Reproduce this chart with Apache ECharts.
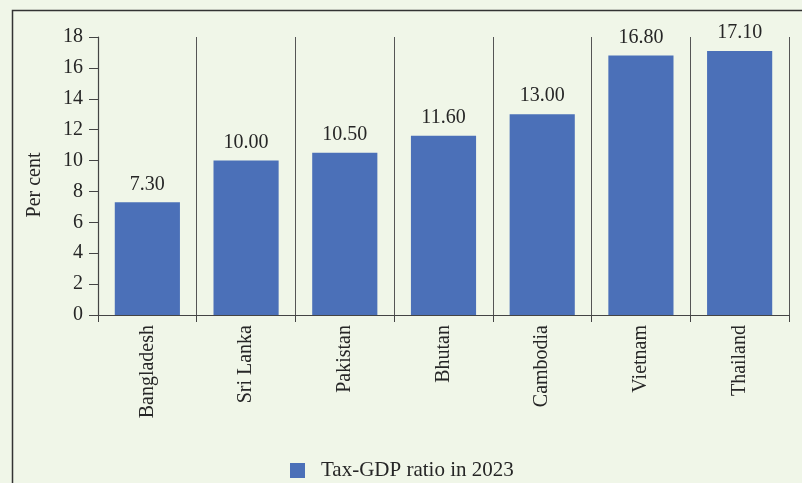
<!DOCTYPE html>
<html><head><meta charset="utf-8">
<script src="https://cdn.jsdelivr.net/npm/echarts@6/dist/echarts.min.js"></script>
<style>html,body{margin:0;padding:0;background:#f0f6e8;}#c{width:802px;height:483px;}</style>
</head><body><div id="c"></div>
<script>
const categories = ['Bangladesh','Sri Lanka','Pakistan','Bhutan','Cambodia','Vietnam','Thailand'];
const taxGdp2023 = [7.30, 10.00, 10.50, 11.60, 13.00, 16.80, 17.10];
const seriesName = 'Tax-GDP ratio in 2023';
const yAxisName = 'Per cent';

const FONT = '"Liberation Serif", serif';
const TXT = '#262626';
const chart = echarts.init(document.getElementById('c'), null, {renderer:'canvas'});
chart.setOption({
  backgroundColor: '#f0f6e8',
  animation: false,
  textStyle: {fontFamily: FONT, color: TXT},
  graphic: [{
    type: 'rect', left: 10, top: 8, z: -1,
    shape: {width: 820, height: 520},
    style: {fill: 'none', stroke: '#333', lineWidth: 1.5}
  }],
  grid: {left: 98, right: 13, top: 37, bottom: 168, containLabel: false},
  legend: {
    data: [seriesName], left: 285, top: 455,
    itemWidth: 15, itemHeight: 15, icon: 'rect',
    textStyle: {fontFamily: FONT, fontSize: 21, color: TXT, padding: [0,0,0,11]}
  },
  xAxis: {
    type: 'category', data: categories,
    axisLine: {lineStyle: {color: '#444', width: 1.2}},
    axisTick: {show: true, length: 7, lineStyle: {color: '#444'}},
    splitLine: {show: true, lineStyle: {color: '#555', width: 1}},
    axisLabel: {rotate: 90, fontFamily: FONT, fontSize: 20, color: TXT, margin: 10}
  },
  yAxis: {
    type: 'value', min: 0, max: 18, interval: 2,
    name: yAxisName, nameLocation: 'middle', nameGap: 53, nameRotate: 90,
    nameTextStyle: {fontFamily: FONT, fontSize: 20, color: TXT, padding: [0,0,0,-18]},
    axisLine: {show: true, lineStyle: {color: '#444', width: 1.2}},
    axisTick: {show: true, length: 9, lineStyle: {color: '#444'}},
    splitLine: {show: false},
    axisLabel: {fontFamily: FONT, fontSize: 20, color: TXT, margin: 15}
  },
  series: [{
    name: seriesName, type: 'bar', data: taxGdp2023, barWidth: '66%',
    itemStyle: {color: '#4b70b8'},
    label: {show: true, position: 'top', distance: 8, fontFamily: FONT, fontSize: 20, color: TXT,
      formatter: p => p.value.toFixed(2)}
  }]
});
</script></body></html>
